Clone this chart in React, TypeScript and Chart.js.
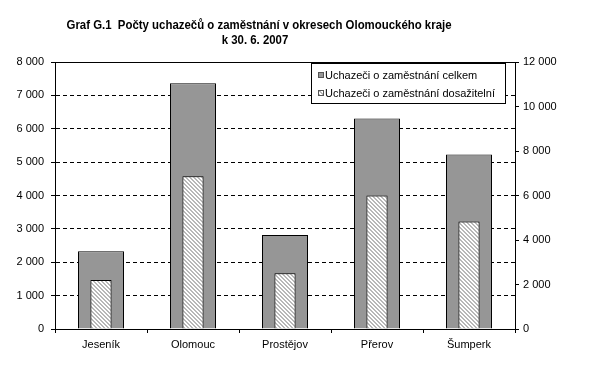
import React, { useEffect, useRef } from 'react';
import { Chart, registerables } from 'chart.js';

Chart.register(...registerables);

const titleLines = ['Graf G.1  Počty uchazečů o zaměstnání v okresech Olomouckého kraje', 'k 30. 6. 2007'];
const categories = ['Jeseník', 'Olomouc', 'Prostějov', 'Přerov', 'Šumperk'];
const seriesNames = ['Uchazeči o zaměstnání celkem', 'Uchazeči o zaměstnání dosažitelní'];
const celkem = [2330, 7360, 2820, 6310, 5230];
const dosazitelni = [1470, 4580, 1670, 4000, 3220];
const leftAxis = { min: 0, max: 8000, step: 1000 };
const rightAxis = { min: 0, max: 12000, step: 2000 };

const FONT = "'Liberation Sans', Arial, sans-serif";
const TITLE_FONT = "bold 13px 'Liberation Sans', Arial, sans-serif";
const GRAY = '#969696';

const fmt = (v: number | string) => String(v).replace(/\B(?=(\d{3})+(?!\d))/g, ' ');

function makeHatch(): CanvasPattern | string {
  const c = document.createElement('canvas');
  c.width = 8;
  c.height = 8;
  const g = c.getContext('2d');
  if (!g) return '#ddd';
  const img = g.createImageData(8, 8);
  for (let y = 0; y < 8; y++) {
    for (let x = 0; x < 8; x++) {
      const i = (y * 8 + x) * 4;
      const m = (((x - y) % 4) + 4) % 4;
      const on = m === 0 || m === 1;
      const v = on ? 0xb8 : 0xff;
      img.data[i] = v;
      img.data[i + 1] = v;
      img.data[i + 2] = v;
      img.data[i + 3] = 255;
    }
  }
  g.putImageData(img, 0, 0);
  const p = g.createPattern(c, 'repeat');
  return p || '#ddd';
}

export default function App() {
  const ref = useRef<HTMLCanvasElement | null>(null);

  useEffect(() => {
    const canvas = ref.current;
    if (!canvas) return;
    const hatch = makeHatch();

    const decor = {
      id: 'decor',
      afterDraw(chart: any) {
        const ctx = chart.ctx as CanvasRenderingContext2D;
        const a = chart.chartArea;
        ctx.save();
        // top border of plot area
        ctx.strokeStyle = '#000';
        ctx.lineWidth = 1;
        ctx.beginPath();
        ctx.moveTo(a.left, Math.round(a.top) + 0.5);
        ctx.lineTo(a.right, Math.round(a.top) + 0.5);
        ctx.stroke();

        // title (condensed like Arial Narrow)
        ctx.fillStyle = '#000';
        ctx.font = TITLE_FONT;
        ctx.textAlign = 'center';
        ctx.textBaseline = 'alphabetic';
        const w0 = ctx.measureText(titleLines[0]).width || 1;
        const sx = 385 / w0;
        ctx.save();
        ctx.scale(sx, 1);
        ctx.fillText(titleLines[0], 259 / sx, 29);
        ctx.fillText(titleLines[1], 255 / sx, 44);
        ctx.restore();

        // legend box
        const lx = 311.5, ly = 63.5, lw = 194, lh = 40;
        ctx.fillStyle = '#fff';
        ctx.fillRect(lx, ly, lw, lh);
        ctx.strokeStyle = '#000';
        ctx.strokeRect(lx, ly, lw, lh);
        const rows = [75, 93];
        const fills: any[] = [GRAY, hatch];
        ctx.font = `11px ${FONT}`;
        ctx.textAlign = 'left';
        ctx.textBaseline = 'middle';
        rows.forEach((ry, i) => {
          ctx.fillStyle = fills[i];
          ctx.fillRect(318, ry - 3, 6, 6);
          ctx.strokeStyle = '#555';
          ctx.strokeRect(318.5, ry - 2.5, 5, 5);
          ctx.fillStyle = '#000';
          ctx.fillText(seriesNames[i], 325, ry + 0.5);
        });
        ctx.restore();
      },
    };

    const chart = new Chart(canvas, {
      type: 'bar',
      data: {
        labels: categories,
        datasets: [
          {
            label: seriesNames[0],
            data: celkem,
            backgroundColor: GRAY,
            borderColor: '#000',
            borderWidth: 1,
            barPercentage: 0.5,
            categoryPercentage: 1,
            grouped: false,
            order: 2,
            yAxisID: 'y',
          } as any,
          {
            label: seriesNames[1],
            data: dosazitelni,
            backgroundColor: hatch as any,
            borderColor: '#000',
            borderWidth: 1,
            barPercentage: 0.23,
            categoryPercentage: 1,
            grouped: false,
            order: 1,
            yAxisID: 'y',
          } as any,
        ],
      },
      options: {
        responsive: false,
        animation: false,
        devicePixelRatio: 1,
        layout: { padding: { top: 62, left: 0, right: 0, bottom: 0 } },
        plugins: {
          legend: { display: false },
          title: { display: false },
          tooltip: { enabled: false },
        },
        scales: {
          x: {
            type: 'category',
            offset: true,
            grid: {
              offset: true,
              drawOnChartArea: false,
              drawTicks: true,
              tickLength: 4,
              color: '#000',
              tickColor: '#000',
            },
            border: { display: true, color: '#000', width: 1 },
            ticks: {
              color: '#000',
              font: { family: FONT, size: 11 },
              padding: 5,
              maxRotation: 0,
              autoSkip: false,
            },
            afterFit: (s: any) => {
              s.height = 43;
            },
          },
          y: {
            position: 'left',
            min: leftAxis.min,
            max: leftAxis.max,
            ticks: {
              stepSize: leftAxis.step,
              callback: (v: any) => fmt(v),
              color: '#000',
              font: { family: FONT, size: 11 },
              padding: 7,
            },
            grid: {
              color: (c: any) =>
                c.tick && (c.tick.value === leftAxis.min || c.tick.value === leftAxis.max)
                  ? 'rgba(0,0,0,0)'
                  : '#000',
              tickColor: '#000',
              tickLength: 4,
              lineWidth: 1,
              tickBorderDash: [],
            },
            border: { display: true, color: '#000', width: 1, dash: [4, 3] },
            afterFit: (s: any) => {
              s.width = 55;
            },
          },
          y1: {
            position: 'right',
            min: rightAxis.min,
            max: rightAxis.max,
            ticks: {
              stepSize: rightAxis.step,
              callback: (v: any) => fmt(v),
              color: '#000',
              font: { family: FONT, size: 11 },
              padding: 4,
            },
            grid: {
              drawOnChartArea: false,
              drawTicks: true,
              tickLength: 4,
              color: '#000',
              tickColor: '#000',
            },
            border: { display: true, color: '#000', width: 1 },
            afterFit: (s: any) => {
              s.width = 81;
            },
          },
        } as any,
      },
      plugins: [decor],
    });

    return () => chart.destroy();
  }, []);

  return (
    <div style={{ position: 'fixed', left: 0, top: 0, width: 596, height: 372, background: '#fff' }}>
      <canvas ref={ref} width={596} height={372} style={{ display: 'block', width: 596, height: 372 }} />
    </div>
  );
}
